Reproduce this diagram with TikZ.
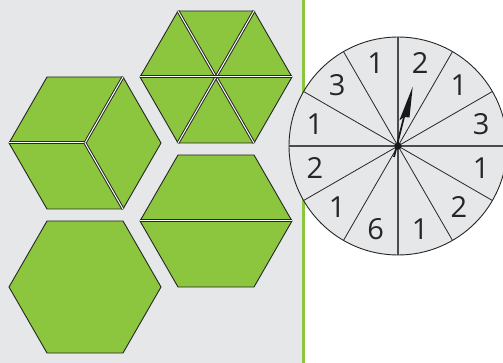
\documentclass[tikz,border=0pt]{standalone}
\usepackage{fontspec}
\usetikzlibrary{calc}
\newfontfamily\digitfont{Open Sans}
\definecolor{pgreen}{HTML}{8CC63F}
\definecolor{pgrey}{HTML}{E6E7E9}
\tikzset{
  piece/.style={fill=pgreen, draw=black!85, line width=0.9pt, line join=miter},
  cutblack/.style={draw=black!85, line width=3pt, line cap=butt},
  cutwhite/.style={draw=white, line width=1pt, line cap=butt},
  sector/.style={draw=black!85, line width=0.8pt},
  axis/.style={draw=black!70, line width=1.3pt},
  num/.style={font=\digitfont\fontsize{29}{29}\selectfont, inner sep=0pt, text=black!85}
}
\newcommand{\hexpath}[2]{(#1-38,#2-66) -- (#1+38,#2-66) -- (#1+76,#2) -- (#1+38,#2+66) -- (#1-38,#2+66) -- (#1-76,#2) -- cycle}
\begin{document}
\begin{tikzpicture}[x=1pt,y=-1pt]
\useasboundingbox (0,0) rectangle (503,363);
\clip (0,0) rectangle (503,363);
% backgrounds
\fill[pgrey] (0,0) rectangle (302,363);
\fill[pgreen] (302,0) rectangle (305,363);
% triangles hexagon
\coordinate (T) at (216,77);
\path[piece] \hexpath{216}{77};
\foreach \a/\b in {{(178,11)}/{(254,143)},{(254,11)}/{(178,143)},{(140,77)}/{(292,77)}} {
  \draw[cutblack] \a -- \b;
  \draw[cutwhite] \a -- \b;
}
% cube hexagon
\coordinate (C) at (85,143);
\path[piece] \hexpath{85}{143};
\foreach \b in {{(9,143)},{(123,77)},{(123,209)}} {
  \draw[cutblack] (C) -- \b;
  \draw[cutwhite] (C) -- \b;
}
% trapezoid hexagon
\coordinate (Z) at (216,221);
\path[piece] \hexpath{216}{221};
\draw[cutblack] (140,221) -- (292,221);
\draw[cutwhite] (140,221) -- (292,221);
% plain hexagon
\coordinate (P) at (85,287);
\path[piece] \hexpath{85}{287};
% spinner
\coordinate (S) at (398,146);
\fill[pgrey] (S) circle (109);
\foreach \ang in {30,60,120,150} {
  \draw[sector] ($(S)+(\ang:109)$) -- ($(S)+(\ang+180:109)$);
}
\draw[axis] ($(S)+(0,-109)$) -- ($(S)+(0,109)$);
\draw[axis] ($(S)+(-109,0)$) -- ($(S)+(109,0)$);
\draw[black!85, line width=0.9pt] (S) circle (109);
% numbers (y axis points down, so visual angle a is written -a)
\foreach \n/\ang [count=\i] in {2/-75,1/-45,3/-15,1/15,2/45,1/75,6/105,1/135,2/165,1/-165,3/-135,1/-105} {
  \node[num] (n\i) at ($(S)+(\ang:86)$) {\n};
}
% pointer
\fill[black!90] (412.7,86.7) -- (399.3,120.5) -- (404,117) -- (409.5,117.5) -- cycle;
\draw[black!90, line width=1.8pt] (404,117) -- (394,157);
\fill[black!90] (S) circle (3.6);
\end{tikzpicture}
\end{document}
